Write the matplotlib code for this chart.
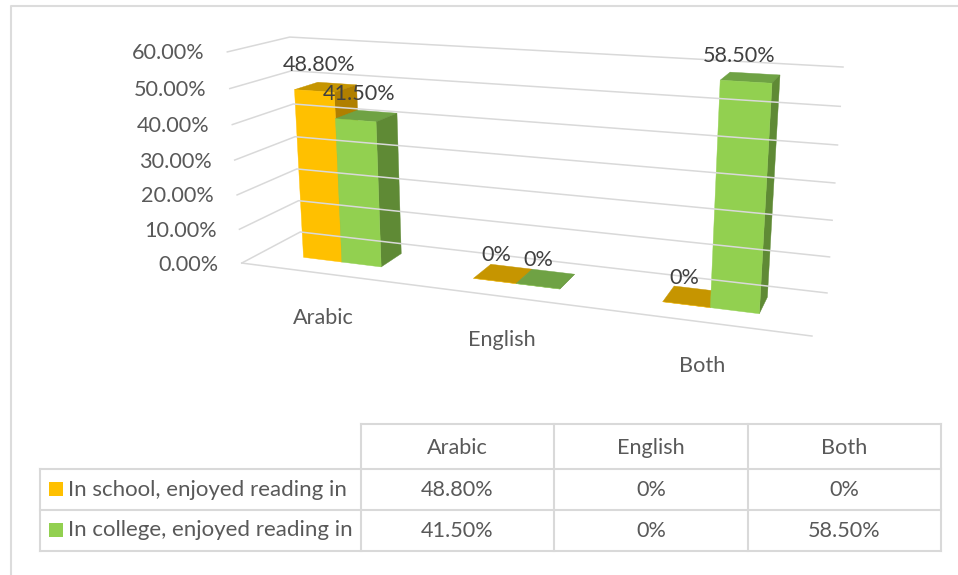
import numpy as np
import matplotlib
matplotlib.use('Agg')
import matplotlib.pyplot as plt
from matplotlib.patches import Polygon, Rectangle

categories = ['Arabic', 'English', 'Both']
school_values = [48.8, 0, 0]
college_values = [41.5, 0, 58.5]
school_name = 'In school, enjoyed reading in'
college_name = 'In college, enjoyed reading in'
axis_ticks = [0, 10, 20, 30, 40, 50, 60]

GRID = '#d9d9d9'
TICK_TEXT = '#595959'
LABEL_TEXT = '#404040'
FONT = 'Lato'
FONT_SIZE = 15.6

# corners of the 3d box in picture pixels: (category, depth, value) -> (px, py)
box_world = [(0, 0, 0), (0, 1, 0), (3, 1, 0), (3, 0, 0), (0, 1, 60), (3, 1, 60), (0, 0, 60)]
box_pixel = [(242, 263), (300, 232), (827, 293), (812, 336), (290, 37), (843, 67), (227, 52)]


def fit_camera(world, pixel):
    rows = []
    for (x, y, z), (u, v) in zip(world, pixel):
        rows.append([x, y, z, 1, 0, 0, 0, 0, -u * x, -u * y, -u * z, -u])
        rows.append([0, 0, 0, 0, x, y, z, 1, -v * x, -v * y, -v * z, -v])
    return np.linalg.svd(np.array(rows, dtype=float))[2][-1].reshape(3, 4)


camera = fit_camera(box_world, box_pixel)


def project(x, y, z):
    u, v, w = camera @ np.array([x, y, z, 1.0])
    return u / w, v / w


def draw_bar(ax, x0, x1, value, front, side, top):
    d0, d1 = 0.33, 0.73
    faces = [
        ([(x0, d0, value), (x1, d0, value), (x1, d1, value), (x0, d1, value)], top),
        ([(x1, d0, 0), (x1, d1, 0), (x1, d1, value), (x1, d0, value)], side),
        ([(x0, d0, 0), (x1, d0, 0), (x1, d0, value), (x0, d0, value)], front),
    ]
    for pts, color in faces:
        ax.add_patch(Polygon([project(*p) for p in pts], closed=True, facecolor=color,
                             edgecolor=color, linewidth=0.3))


fig = plt.figure(figsize=(9.58, 5.75), dpi=100)
ax = fig.add_axes([0, 0, 1, 1])
ax.set_xlim(0, 958)
ax.set_ylim(575, 0)
ax.axis('off')

# chart border
ax.plot([11, 11, 958], [575, 6, 6], color='#dcdcdc', lw=1.5)

# walls
for tick in axis_ticks:
    pts = [project(0, 0, tick), project(0, 1, tick), project(3, 1, tick)]
    ax.plot([p[0] for p in pts], [p[1] for p in pts], color=GRID, lw=1.1)
    ax.text(pts[0][0] - 23, pts[0][1] + 1.5, f'{tick:.2f}%', ha='right', va='center',
            fontsize=FONT_SIZE, color=TICK_TEXT, family=FONT)
pts = [project(0, 0, 0), project(3, 0, 0)]
ax.plot([p[0] for p in pts], [p[1] for p in pts], color=GRID, lw=1.1)

# bars and their labels
bar_w = 0.235
bar_gap = 0.26
for i, name in enumerate(categories):
    x0 = i + bar_gap
    draw_bar(ax, x0, x0 + bar_w, school_values[i], '#ffc000', '#b07f00', '#c69500')
    draw_bar(ax, x0 + bar_w, x0 + 2 * bar_w, college_values[i], '#92d050', '#5f8a35', '#6fa244')
    for j, v in enumerate([school_values[i], college_values[i]]):
        px, py = project(x0 + (j + 0.5) * bar_w, 0.53, v)
        # flat bars sit a little closer to their label, the tall right one further left
        dx = -11 if v > 50 else -7
        dy = -22 if v else -19
        ax.text(px + dx, py + dy, f'{v:.2f}%' if v else '0%', ha='center', va='center',
                fontsize=FONT_SIZE, color=LABEL_TEXT, family=FONT)
    px, py = project(i + 0.5, 0, 0)
    ax.text(px - 1, py + 44, name, ha='center', va='center', fontsize=FONT_SIZE,
            color=TICK_TEXT, family=FONT)

# data table under the chart
col_x = [361, 554, 748, 941]
row_y = [424, 469, 510, 551]
for x in col_x:
    ax.plot([x, x], [row_y[0], row_y[-1]], color=GRID, lw=1.5)
ax.plot([361, 941], [row_y[0], row_y[0]], color=GRID, lw=1.5)
for y in row_y[1:]:
    ax.plot([40, 941], [y, y], color=GRID, lw=1.5)
ax.plot([40, 40], [row_y[1], row_y[-1]], color=GRID, lw=1.5)

for i, name in enumerate(categories):
    cx = (col_x[i] + col_x[i + 1]) / 2
    ax.text(cx, 447.5, name, ha='center', va='center', fontsize=FONT_SIZE, color=TICK_TEXT, family=FONT)
    for row, values in enumerate([school_values, college_values]):
        v = values[i]
        ax.text(cx, (row_y[row + 1] + row_y[row + 2]) / 2 + 0.5, f'{v:.2f}%' if v else '0%',
                ha='center', va='center', fontsize=FONT_SIZE, color=TICK_TEXT, family=FONT)

for row, (name, color) in enumerate([(school_name, '#ffc000'), (college_name, '#92d050')]):
    cy = (row_y[row + 1] + row_y[row + 2]) / 2
    ax.add_patch(Rectangle((49, cy - 8), 14, 14, facecolor=color, edgecolor='none'))
    ax.text(68, cy, name, ha='left', va='center', fontsize=16, color=TICK_TEXT, family=FONT)

fig.savefig('out.png', dpi=100)
